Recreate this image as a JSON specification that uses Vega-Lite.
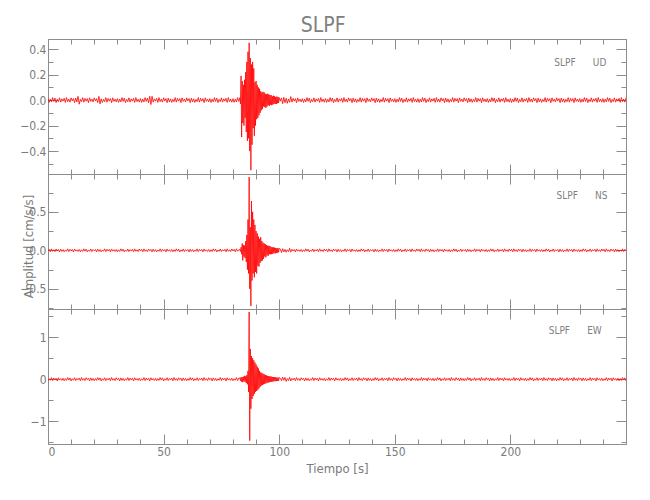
{
"$schema": "https://vega.github.io/schema/vega-lite/v6.json",
"padding": {"left": 19, "top": 15, "right": 5, "bottom": 5},
"title": {"text": "SLPF", "fontSize": 21, "fontWeight": "normal", "color": "#808080", "anchor": "middle", "offset": 2},
"config": {
 "font": "Liberation Sans Narrow, DejaVu Sans Condensed, sans-serif",
 "view": {"stroke": "#8c8c8c", "strokeWidth": 1},
 "axis": {"domainColor": "#8c8c8c", "tickColor": "#8c8c8c", "labelColor": "#7a7a7a", "titleColor": "#7a7a7a", "labelFontSize": 12, "titleFontSize": 13, "titleFontWeight": "normal", "grid": false, "labelPadding": 12}
},
"datasets": {"w": [
{"t":0,"u":0.012,"n":-0.008,"e":-0.036},{"t":0.5,"u":-0.018,"n":0.014,"e":0.012},{"t":1,"u":0.008,"n":-0.018,"e":-0.024},{"t":1.5,"u":-0.014,"n":0.02,"e":0.04},{"t":2,"u":0.02,"n":-0.012,"e":-0.032},{"t":2.5,"u":-0.01,"n":0.008,"e":0.028},{"t":3,"u":0.016,"n":-0.016,"e":-0.016},{"t":3.5,"u":-0.02,"n":0.018,"e":0.024},{"t":4,"u":0.006,"n":-0.006,"e":-0.04},{"t":4.5,"u":-0.012,"n":0.012,"e":0.036},
{"t":5,"u":0.018,"n":-0.02,"e":-0.02},{"t":5.5,"u":-0.016,"n":0.016,"e":0.016},{"t":6,"u":0.01,"n":-0.014,"e":-0.028},{"t":6.5,"u":-0.008,"n":0.01,"e":0.024},{"t":7,"u":0.014,"n":-0.018,"e":-0.036},{"t":7.5,"u":-0.018,"n":0.006,"e":0.016},{"t":8,"u":0.02,"n":-0.012,"e":-0.028},{"t":8.5,"u":-0.012,"n":0.02,"e":0.04},{"t":9,"u":0.008,"n":-0.016,"e":-0.02},{"t":9.5,"u":-0.016,"n":0.014,"e":0.032},
{"t":10,"u":0.018,"n":-0.008,"e":-0.04},{"t":10.5,"u":-0.006,"n":0.012,"e":0.012},{"t":11,"u":0.012,"n":-0.02,"e":-0.024},{"t":11.5,"u":-0.02,"n":0.018,"e":0.036},{"t":12,"u":0.016,"n":-0.01,"e":-0.032},{"t":12.5,"u":-0.014,"n":0.008,"e":0.02},{"t":13,"u":0.03,"n":-0.014,"e":-0.016},{"t":13.5,"u":-0.032,"n":0.012,"e":0.028},{"t":14,"u":0.006,"n":-0.018,"e":-0.036},{"t":14.5,"u":-0.012,"n":0.008,"e":0.04},
{"t":15,"u":0.02,"n":-0.014,"e":-0.024},{"t":15.5,"u":-0.016,"n":0.02,"e":0.016},{"t":16,"u":0.014,"n":-0.01,"e":-0.032},{"t":16.5,"u":-0.008,"n":0.016,"e":0.036},{"t":17,"u":0.012,"n":-0.02,"e":-0.012},{"t":17.5,"u":-0.02,"n":0.006,"e":0.024},{"t":18,"u":0.018,"n":-0.012,"e":-0.04},{"t":18.5,"u":-0.01,"n":0.018,"e":0.032},{"t":19,"u":0.008,"n":-0.016,"e":-0.028},{"t":19.5,"u":-0.014,"n":0.01,"e":0.02},
{"t":20,"u":0.018,"n":-0.006,"e":-0.036},{"t":20.5,"u":-0.006,"n":0.012,"e":0.016},{"t":21,"u":0.012,"n":-0.02,"e":-0.028},{"t":21.5,"u":-0.02,"n":0.016,"e":0.04},{"t":22,"u":0.03,"n":-0.014,"e":-0.02},{"t":22.5,"u":-0.03,"n":0.01,"e":0.032},{"t":23,"u":0.01,"n":-0.018,"e":-0.04},{"t":23.5,"u":-0.018,"n":0.006,"e":0.012},{"t":24,"u":0.006,"n":-0.012,"e":-0.024},{"t":24.5,"u":-0.012,"n":0.02,"e":0.036},
{"t":25,"u":0.02,"n":-0.016,"e":-0.032},{"t":25.5,"u":-0.016,"n":0.014,"e":0.02},{"t":26,"u":0.014,"n":-0.008,"e":-0.016},{"t":26.5,"u":-0.008,"n":0.012,"e":0.028},{"t":27,"u":0.012,"n":-0.02,"e":-0.036},{"t":27.5,"u":-0.02,"n":0.018,"e":0.04},{"t":28,"u":0.018,"n":-0.01,"e":-0.024},{"t":28.5,"u":-0.01,"n":0.008,"e":0.016},{"t":29,"u":0.008,"n":-0.014,"e":-0.032},{"t":29.5,"u":-0.014,"n":0.012,"e":0.036},
{"t":30,"u":0.012,"n":-0.018,"e":-0.012},{"t":30.5,"u":-0.018,"n":0.008,"e":0.024},{"t":31,"u":0.008,"n":-0.014,"e":-0.04},{"t":31.5,"u":-0.014,"n":0.02,"e":0.032},{"t":32,"u":0.02,"n":-0.01,"e":-0.028},{"t":32.5,"u":-0.01,"n":0.016,"e":0.02},{"t":33,"u":0.016,"n":-0.02,"e":-0.036},{"t":33.5,"u":-0.02,"n":0.006,"e":0.012},{"t":34,"u":0.006,"n":-0.012,"e":-0.024},{"t":34.5,"u":-0.012,"n":0.018,"e":0.04},
{"t":35,"u":0.018,"n":-0.016,"e":-0.032},{"t":35.5,"u":-0.016,"n":0.01,"e":0.028},{"t":36,"u":0.01,"n":-0.008,"e":-0.016},{"t":36.5,"u":-0.008,"n":0.014,"e":0.024},{"t":37,"u":0.014,"n":-0.018,"e":-0.04},{"t":37.5,"u":-0.018,"n":0.02,"e":0.036},{"t":38,"u":0.02,"n":-0.012,"e":-0.02},{"t":38.5,"u":-0.012,"n":0.008,"e":0.016},{"t":39,"u":0.008,"n":-0.016,"e":-0.028},{"t":39.5,"u":-0.016,"n":0.018,"e":0.024},
{"t":40,"u":0.012,"n":-0.008,"e":-0.036},{"t":40.5,"u":-0.018,"n":0.014,"e":0.012},{"t":41,"u":0.008,"n":-0.018,"e":-0.024},{"t":41.5,"u":-0.014,"n":0.02,"e":0.04},{"t":42,"u":0.02,"n":-0.012,"e":-0.032},{"t":42.5,"u":-0.01,"n":0.008,"e":0.028},{"t":43,"u":0.016,"n":-0.016,"e":-0.016},{"t":43.5,"u":-0.02,"n":0.018,"e":0.024},{"t":44,"u":0.03,"n":-0.006,"e":-0.04},{"t":44.5,"u":-0.035,"n":0.012,"e":0.036},
{"t":45,"u":0.03,"n":-0.02,"e":-0.02},{"t":45.5,"u":-0.016,"n":0.016,"e":0.016},{"t":46,"u":0.01,"n":-0.014,"e":-0.028},{"t":46.5,"u":-0.008,"n":0.01,"e":0.024},{"t":47,"u":0.014,"n":-0.018,"e":-0.036},{"t":47.5,"u":-0.018,"n":0.006,"e":0.016},{"t":48,"u":0.02,"n":-0.012,"e":-0.028},{"t":48.5,"u":-0.012,"n":0.02,"e":0.04},{"t":49,"u":0.008,"n":-0.016,"e":-0.02},{"t":49.5,"u":-0.016,"n":0.014,"e":0.032},
{"t":50,"u":0.018,"n":-0.008,"e":-0.04},{"t":50.5,"u":-0.006,"n":0.012,"e":0.012},{"t":51,"u":0.012,"n":-0.02,"e":-0.024},{"t":51.5,"u":-0.02,"n":0.018,"e":0.036},{"t":52,"u":0.016,"n":-0.01,"e":-0.032},{"t":52.5,"u":-0.014,"n":0.008,"e":0.02},{"t":53,"u":0.01,"n":-0.014,"e":-0.016},{"t":53.5,"u":-0.018,"n":0.012,"e":0.028},{"t":54,"u":0.006,"n":-0.018,"e":-0.036},{"t":54.5,"u":-0.012,"n":0.008,"e":0.04},
{"t":55,"u":0.02,"n":-0.014,"e":-0.024},{"t":55.5,"u":-0.016,"n":0.02,"e":0.016},{"t":56,"u":0.014,"n":-0.01,"e":-0.032},{"t":56.5,"u":-0.008,"n":0.016,"e":0.036},{"t":57,"u":0.012,"n":-0.02,"e":-0.012},{"t":57.5,"u":-0.02,"n":0.006,"e":0.024},{"t":58,"u":0.018,"n":-0.012,"e":-0.04},{"t":58.5,"u":-0.01,"n":0.018,"e":0.032},{"t":59,"u":0.008,"n":-0.016,"e":-0.028},{"t":59.5,"u":-0.014,"n":0.01,"e":0.02},
{"t":60,"u":0.018,"n":-0.006,"e":-0.036},{"t":60.5,"u":-0.006,"n":0.012,"e":0.016},{"t":61,"u":0.012,"n":-0.02,"e":-0.028},{"t":61.5,"u":-0.02,"n":0.016,"e":0.04},{"t":62,"u":0.016,"n":-0.014,"e":-0.02},{"t":62.5,"u":-0.014,"n":0.01,"e":0.032},{"t":63,"u":0.01,"n":-0.018,"e":-0.04},{"t":63.5,"u":-0.018,"n":0.006,"e":0.012},{"t":64,"u":0.006,"n":-0.012,"e":-0.024},{"t":64.5,"u":-0.012,"n":0.02,"e":0.036},
{"t":65,"u":0.02,"n":-0.016,"e":-0.032},{"t":65.5,"u":-0.016,"n":0.014,"e":0.02},{"t":66,"u":0.014,"n":-0.008,"e":-0.016},{"t":66.5,"u":-0.008,"n":0.012,"e":0.028},{"t":67,"u":0.012,"n":-0.02,"e":-0.036},{"t":67.5,"u":-0.02,"n":0.018,"e":0.04},{"t":68,"u":0.018,"n":-0.01,"e":-0.024},{"t":68.5,"u":-0.01,"n":0.008,"e":0.016},{"t":69,"u":0.008,"n":-0.014,"e":-0.032},{"t":69.5,"u":-0.014,"n":0.012,"e":0.036},
{"t":70,"u":0.012,"n":-0.018,"e":-0.012},{"t":70.5,"u":-0.018,"n":0.008,"e":0.024},{"t":71,"u":0.008,"n":-0.014,"e":-0.04},{"t":71.5,"u":-0.014,"n":0.02,"e":0.032},{"t":72,"u":0.02,"n":-0.01,"e":-0.028},{"t":72.5,"u":-0.01,"n":0.016,"e":0.02},{"t":73,"u":0.016,"n":-0.02,"e":-0.036},{"t":73.5,"u":-0.02,"n":0.006,"e":0.012},{"t":74,"u":0.006,"n":-0.012,"e":-0.024},{"t":74.5,"u":-0.012,"n":0.018,"e":0.04},
{"t":75,"u":0.018,"n":-0.016,"e":-0.032},{"t":75.5,"u":-0.016,"n":0.01,"e":0.028},{"t":76,"u":0.01,"n":-0.008,"e":-0.016},{"t":76.5,"u":-0.008,"n":0.014,"e":0.024},{"t":77,"u":0.014,"n":-0.018,"e":-0.04},{"t":77.5,"u":-0.018,"n":0.02,"e":0.036},{"t":78,"u":0.02,"n":-0.012,"e":-0.02},{"t":78.5,"u":-0.012,"n":0.008,"e":0.016},{"t":79,"u":0.008,"n":-0.016,"e":-0.028},{"t":79.5,"u":-0.016,"n":0.018,"e":0.024},
{"t":80,"u":0.012,"n":-0.008,"e":-0.036},{"t":80.5,"u":-0.018,"n":0.014,"e":0.012},{"t":81,"u":0.008,"n":-0.018,"e":-0.024},{"t":81.5,"u":-0.014,"n":0.02,"e":0.04},{"t":82,"u":0.02,"n":-0.012,"e":-0.032},{"t":82.5,"u":-0.01,"n":0.008,"e":0.028},
{"t":83,"u":0.02,"n":0.01,"e":0.03},{"t":83.25,"u":-0.03,"n":-0.015,"e":-0.035},{"t":83.5,"u":0.19,"n":0.04,"e":0.05},{"t":83.75,"u":-0.29,"n":-0.05,"e":-0.06},
{"t":84,"u":0.15,"n":0.09,"e":0.05},{"t":84.25,"u":-0.18,"n":-0.13,"e":-0.07},{"t":84.5,"u":0.12,"n":0.07,"e":0.06},{"t":84.75,"u":-0.2,"n":-0.08,"e":-0.05},
{"t":85,"u":0.16,"n":0.06,"e":0.08},{"t":85.25,"u":-0.14,"n":-0.1,"e":-0.06},{"t":85.5,"u":0.22,"n":0.12,"e":0.07},{"t":85.75,"u":-0.25,"n":-0.15,"e":-0.09},
{"t":86,"u":0.3,"n":0.2,"e":0.1},{"t":86.25,"u":-0.32,"n":-0.25,"e":-0.12},{"t":86.5,"u":0.38,"n":0.4,"e":0.2},{"t":86.75,"u":-0.3,"n":-0.3,"e":-0.3},
{"t":87,"u":0.45,"n":0.95,"e":1.6},{"t":87.25,"u":-0.4,"n":-0.5,"e":-1.46},{"t":87.5,"u":0.33,"n":0.3,"e":0.72},{"t":87.75,"u":-0.55,"n":-0.72,"e":-0.7},
{"t":88,"u":0.28,"n":0.64,"e":0.55},{"t":88.25,"u":-0.35,"n":-0.39,"e":-0.47},{"t":88.5,"u":0.3,"n":0.5,"e":0.5},{"t":88.75,"u":-0.22,"n":-0.3,"e":-0.4},
{"t":89,"u":0.25,"n":0.4,"e":0.45},{"t":89.25,"u":-0.28,"n":-0.35,"e":-0.35},{"t":89.5,"u":0.14,"n":0.33,"e":0.4},{"t":89.75,"u":-0.2,"n":-0.28,"e":-0.3},
{"t":90,"u":0.15,"n":0.25,"e":0.35},{"t":90.25,"u":-0.15,"n":-0.3,"e":-0.28},{"t":90.5,"u":0.12,"n":0.22,"e":0.3},{"t":90.75,"u":-0.14,"n":-0.2,"e":-0.25},
{"t":91,"u":0.1,"n":0.18,"e":0.26},{"t":91.25,"u":-0.12,"n":-0.21,"e":-0.22},{"t":91.5,"u":0.09,"n":0.15,"e":0.2},{"t":91.75,"u":-0.1,"n":-0.16,"e":-0.18},
{"t":92,"u":0.07,"n":0.17,"e":0.16},{"t":92.25,"u":-0.08,"n":-0.14,"e":-0.15},{"t":92.5,"u":0.06,"n":0.12,"e":0.15},{"t":92.75,"u":-0.07,"n":-0.13,"e":-0.14},
{"t":93,"u":0.065,"n":0.1,"e":0.13},{"t":93.25,"u":-0.05,"n":-0.11,"e":-0.12},{"t":93.5,"u":0.06,"n":0.09,"e":0.12},{"t":93.75,"u":-0.055,"n":-0.08,"e":-0.11},
{"t":94,"u":0.05,"n":0.08,"e":0.1},{"t":94.25,"u":-0.06,"n":-0.09,"e":-0.1},{"t":94.5,"u":0.045,"n":0.07,"e":0.09},{"t":94.75,"u":-0.05,"n":-0.065,"e":-0.085},
{"t":95,"u":0.05,"n":0.06,"e":0.08},{"t":95.25,"u":-0.04,"n":-0.07,"e":-0.08},{"t":95.5,"u":0.045,"n":0.06,"e":0.075},{"t":95.75,"u":-0.045,"n":-0.05,"e":-0.07},
{"t":96,"u":0.04,"n":0.055,"e":0.07},{"t":96.25,"u":-0.035,"n":-0.05,"e":-0.06},{"t":96.5,"u":0.04,"n":0.045,"e":0.065},{"t":96.75,"u":-0.04,"n":-0.05,"e":-0.06},
{"t":97,"u":0.03,"n":0.04,"e":0.055},{"t":97.25,"u":-0.035,"n":-0.045,"e":-0.055},{"t":97.5,"u":0.035,"n":0.04,"e":0.05},{"t":97.75,"u":-0.03,"n":-0.035,"e":-0.05},
{"t":98,"u":0.03,"n":0.035,"e":0.05},{"t":98.25,"u":-0.03,"n":-0.04,"e":-0.045},{"t":98.5,"u":0.025,"n":0.03,"e":0.045},{"t":98.75,"u":-0.03,"n":-0.035,"e":-0.045},
{"t":99,"u":0.028,"n":0.03,"e":0.04},{"t":99.25,"u":-0.025,"n":-0.03,"e":-0.04},{"t":99.5,"u":0.025,"n":0.028,"e":0.04},{"t":99.75,"u":-0.022,"n":-0.025,"e":-0.04},
{"t":100,"u":0.02,"n":0.025,"e":0.04},
{"t":100.5,"u":-0.008,"n":0.017,"e":0.021},{"t":101,"u":0.017,"n":-0.028,"e":-0.036},{"t":101.5,"u":-0.028,"n":0.022,"e":0.052},{"t":102,"u":0.022,"n":-0.02,"e":-0.026},{"t":102.5,"u":-0.02,"n":0.014,"e":0.042},{"t":103,"u":0.014,"n":-0.025,"e":-0.052},{"t":103.5,"u":-0.025,"n":0.008,"e":0.016},{"t":104,"u":0.008,"n":-0.017,"e":-0.031},{"t":104.5,"u":-0.017,"n":0.028,"e":0.047},{"t":105,"u":0.028,"n":-0.022,"e":-0.042},
{"t":105.5,"u":-0.016,"n":0.014,"e":0.02},{"t":106,"u":0.014,"n":-0.008,"e":-0.016},{"t":106.5,"u":-0.008,"n":0.012,"e":0.028},{"t":107,"u":0.012,"n":-0.02,"e":-0.036},{"t":107.5,"u":-0.02,"n":0.018,"e":0.04},{"t":108,"u":0.018,"n":-0.01,"e":-0.024},{"t":108.5,"u":-0.01,"n":0.008,"e":0.016},{"t":109,"u":0.008,"n":-0.014,"e":-0.032},{"t":109.5,"u":-0.014,"n":0.012,"e":0.036},
{"t":110,"u":0.012,"n":-0.018,"e":-0.012},{"t":110.5,"u":-0.018,"n":0.008,"e":0.024},{"t":111,"u":0.008,"n":-0.014,"e":-0.04},{"t":111.5,"u":-0.014,"n":0.02,"e":0.032},{"t":112,"u":0.02,"n":-0.01,"e":-0.028},{"t":112.5,"u":-0.01,"n":0.016,"e":0.02},{"t":113,"u":0.016,"n":-0.02,"e":-0.036},{"t":113.5,"u":-0.02,"n":0.006,"e":0.012},{"t":114,"u":0.006,"n":-0.012,"e":-0.024},{"t":114.5,"u":-0.012,"n":0.018,"e":0.04},
{"t":115,"u":0.018,"n":-0.016,"e":-0.032},{"t":115.5,"u":-0.016,"n":0.01,"e":0.028},{"t":116,"u":0.01,"n":-0.008,"e":-0.016},{"t":116.5,"u":-0.008,"n":0.014,"e":0.024},{"t":117,"u":0.014,"n":-0.018,"e":-0.04},{"t":117.5,"u":-0.018,"n":0.02,"e":0.036},{"t":118,"u":0.02,"n":-0.012,"e":-0.02},{"t":118.5,"u":-0.012,"n":0.008,"e":0.016},{"t":119,"u":0.008,"n":-0.016,"e":-0.028},{"t":119.5,"u":-0.016,"n":0.018,"e":0.024},
{"t":120,"u":0.012,"n":-0.008,"e":-0.036},{"t":120.5,"u":-0.018,"n":0.014,"e":0.012},{"t":121,"u":0.008,"n":-0.018,"e":-0.024},{"t":121.5,"u":-0.014,"n":0.02,"e":0.04},{"t":122,"u":0.02,"n":-0.012,"e":-0.032},{"t":122.5,"u":-0.01,"n":0.008,"e":0.028},{"t":123,"u":0.016,"n":-0.016,"e":-0.016},{"t":123.5,"u":-0.02,"n":0.018,"e":0.024},{"t":124,"u":0.006,"n":-0.006,"e":-0.04},{"t":124.5,"u":-0.012,"n":0.012,"e":0.036},
{"t":125,"u":0.018,"n":-0.02,"e":-0.02},{"t":125.5,"u":-0.016,"n":0.016,"e":0.016},{"t":126,"u":0.01,"n":-0.014,"e":-0.028},{"t":126.5,"u":-0.008,"n":0.01,"e":0.024},{"t":127,"u":0.014,"n":-0.018,"e":-0.036},{"t":127.5,"u":-0.018,"n":0.006,"e":0.016},{"t":128,"u":0.02,"n":-0.012,"e":-0.028},{"t":128.5,"u":-0.012,"n":0.02,"e":0.04},{"t":129,"u":0.008,"n":-0.016,"e":-0.02},{"t":129.5,"u":-0.016,"n":0.014,"e":0.032},
{"t":130,"u":0.018,"n":-0.008,"e":-0.04},{"t":130.5,"u":-0.006,"n":0.012,"e":0.012},{"t":131,"u":0.012,"n":-0.02,"e":-0.024},{"t":131.5,"u":-0.02,"n":0.018,"e":0.036},{"t":132,"u":0.016,"n":-0.01,"e":-0.032},{"t":132.5,"u":-0.014,"n":0.008,"e":0.02},{"t":133,"u":0.01,"n":-0.014,"e":-0.016},{"t":133.5,"u":-0.018,"n":0.012,"e":0.028},{"t":134,"u":0.006,"n":-0.018,"e":-0.036},{"t":134.5,"u":-0.012,"n":0.008,"e":0.04},
{"t":135,"u":0.02,"n":-0.014,"e":-0.024},{"t":135.5,"u":-0.016,"n":0.02,"e":0.016},{"t":136,"u":0.014,"n":-0.01,"e":-0.032},{"t":136.5,"u":-0.008,"n":0.016,"e":0.036},{"t":137,"u":0.012,"n":-0.02,"e":-0.012},{"t":137.5,"u":-0.02,"n":0.006,"e":0.024},{"t":138,"u":0.018,"n":-0.012,"e":-0.04},{"t":138.5,"u":-0.01,"n":0.018,"e":0.032},{"t":139,"u":0.008,"n":-0.016,"e":-0.028},{"t":139.5,"u":-0.014,"n":0.01,"e":0.02},
{"t":140,"u":0.018,"n":-0.006,"e":-0.036},{"t":140.5,"u":-0.006,"n":0.012,"e":0.016},{"t":141,"u":0.012,"n":-0.02,"e":-0.028},{"t":141.5,"u":-0.02,"n":0.016,"e":0.04},{"t":142,"u":0.016,"n":-0.014,"e":-0.02},{"t":142.5,"u":-0.014,"n":0.01,"e":0.032},{"t":143,"u":0.01,"n":-0.018,"e":-0.04},{"t":143.5,"u":-0.018,"n":0.006,"e":0.012},{"t":144,"u":0.006,"n":-0.012,"e":-0.024},{"t":144.5,"u":-0.012,"n":0.02,"e":0.036},
{"t":145,"u":0.02,"n":-0.016,"e":-0.032},{"t":145.5,"u":-0.016,"n":0.014,"e":0.02},{"t":146,"u":0.014,"n":-0.008,"e":-0.016},{"t":146.5,"u":-0.008,"n":0.012,"e":0.028},{"t":147,"u":0.012,"n":-0.02,"e":-0.036},{"t":147.5,"u":-0.02,"n":0.018,"e":0.04},{"t":148,"u":0.018,"n":-0.01,"e":-0.024},{"t":148.5,"u":-0.01,"n":0.008,"e":0.016},{"t":149,"u":0.008,"n":-0.014,"e":-0.032},{"t":149.5,"u":-0.014,"n":0.012,"e":0.036},
{"t":150,"u":0.012,"n":-0.018,"e":-0.012},{"t":150.5,"u":-0.018,"n":0.008,"e":0.024},{"t":151,"u":0.008,"n":-0.014,"e":-0.04},{"t":151.5,"u":-0.014,"n":0.02,"e":0.032},{"t":152,"u":0.02,"n":-0.01,"e":-0.028},{"t":152.5,"u":-0.01,"n":0.016,"e":0.02},{"t":153,"u":0.016,"n":-0.02,"e":-0.036},{"t":153.5,"u":-0.02,"n":0.006,"e":0.012},{"t":154,"u":0.006,"n":-0.012,"e":-0.024},{"t":154.5,"u":-0.012,"n":0.018,"e":0.04},
{"t":155,"u":0.018,"n":-0.016,"e":-0.032},{"t":155.5,"u":-0.016,"n":0.01,"e":0.028},{"t":156,"u":0.01,"n":-0.008,"e":-0.016},{"t":156.5,"u":-0.008,"n":0.014,"e":0.024},{"t":157,"u":0.014,"n":-0.018,"e":-0.04},{"t":157.5,"u":-0.018,"n":0.02,"e":0.036},{"t":158,"u":0.02,"n":-0.012,"e":-0.02},{"t":158.5,"u":-0.012,"n":0.008,"e":0.016},{"t":159,"u":0.008,"n":-0.016,"e":-0.028},{"t":159.5,"u":-0.016,"n":0.018,"e":0.024},
{"t":160,"u":0.012,"n":-0.008,"e":-0.036},{"t":160.5,"u":-0.018,"n":0.014,"e":0.012},{"t":161,"u":0.008,"n":-0.018,"e":-0.024},{"t":161.5,"u":-0.014,"n":0.02,"e":0.04},{"t":162,"u":0.02,"n":-0.012,"e":-0.032},{"t":162.5,"u":-0.01,"n":0.008,"e":0.028},{"t":163,"u":0.016,"n":-0.016,"e":-0.016},{"t":163.5,"u":-0.02,"n":0.018,"e":0.024},{"t":164,"u":0.006,"n":-0.006,"e":-0.04},{"t":164.5,"u":-0.012,"n":0.012,"e":0.036},
{"t":165,"u":0.018,"n":-0.02,"e":-0.02},{"t":165.5,"u":-0.016,"n":0.016,"e":0.016},{"t":166,"u":0.01,"n":-0.014,"e":-0.028},{"t":166.5,"u":-0.008,"n":0.01,"e":0.024},{"t":167,"u":0.014,"n":-0.018,"e":-0.036},{"t":167.5,"u":-0.018,"n":0.006,"e":0.016},{"t":168,"u":0.02,"n":-0.012,"e":-0.028},{"t":168.5,"u":-0.012,"n":0.02,"e":0.04},{"t":169,"u":0.008,"n":-0.016,"e":-0.02},{"t":169.5,"u":-0.016,"n":0.014,"e":0.032},
{"t":170,"u":0.018,"n":-0.008,"e":-0.04},{"t":170.5,"u":-0.006,"n":0.012,"e":0.012},{"t":171,"u":0.012,"n":-0.02,"e":-0.024},{"t":171.5,"u":-0.02,"n":0.018,"e":0.036},{"t":172,"u":0.016,"n":-0.01,"e":-0.032},{"t":172.5,"u":-0.014,"n":0.008,"e":0.02},{"t":173,"u":0.01,"n":-0.014,"e":-0.016},{"t":173.5,"u":-0.018,"n":0.012,"e":0.028},{"t":174,"u":0.006,"n":-0.018,"e":-0.036},{"t":174.5,"u":-0.012,"n":0.008,"e":0.04},
{"t":175,"u":0.02,"n":-0.014,"e":-0.024},{"t":175.5,"u":-0.016,"n":0.02,"e":0.016},{"t":176,"u":0.014,"n":-0.01,"e":-0.032},{"t":176.5,"u":-0.008,"n":0.016,"e":0.036},{"t":177,"u":0.012,"n":-0.02,"e":-0.012},{"t":177.5,"u":-0.02,"n":0.006,"e":0.024},{"t":178,"u":0.018,"n":-0.012,"e":-0.04},{"t":178.5,"u":-0.01,"n":0.018,"e":0.032},{"t":179,"u":0.008,"n":-0.016,"e":-0.028},{"t":179.5,"u":-0.014,"n":0.01,"e":0.02},
{"t":180,"u":0.018,"n":-0.006,"e":-0.036},{"t":180.5,"u":-0.006,"n":0.012,"e":0.016},{"t":181,"u":0.012,"n":-0.02,"e":-0.028},{"t":181.5,"u":-0.02,"n":0.016,"e":0.04},{"t":182,"u":0.016,"n":-0.014,"e":-0.02},{"t":182.5,"u":-0.014,"n":0.01,"e":0.032},{"t":183,"u":0.01,"n":-0.018,"e":-0.04},{"t":183.5,"u":-0.018,"n":0.006,"e":0.012},{"t":184,"u":0.006,"n":-0.012,"e":-0.024},{"t":184.5,"u":-0.012,"n":0.02,"e":0.036},
{"t":185,"u":0.02,"n":-0.016,"e":-0.032},{"t":185.5,"u":-0.016,"n":0.014,"e":0.02},{"t":186,"u":0.014,"n":-0.008,"e":-0.016},{"t":186.5,"u":-0.008,"n":0.012,"e":0.028},{"t":187,"u":0.012,"n":-0.02,"e":-0.036},{"t":187.5,"u":-0.02,"n":0.018,"e":0.04},{"t":188,"u":0.018,"n":-0.01,"e":-0.024},{"t":188.5,"u":-0.01,"n":0.008,"e":0.016},{"t":189,"u":0.008,"n":-0.014,"e":-0.032},{"t":189.5,"u":-0.014,"n":0.012,"e":0.036},
{"t":190,"u":0.012,"n":-0.018,"e":-0.012},{"t":190.5,"u":-0.018,"n":0.008,"e":0.024},{"t":191,"u":0.008,"n":-0.014,"e":-0.04},{"t":191.5,"u":-0.014,"n":0.02,"e":0.032},{"t":192,"u":0.02,"n":-0.01,"e":-0.028},{"t":192.5,"u":-0.01,"n":0.016,"e":0.02},{"t":193,"u":0.016,"n":-0.02,"e":-0.036},{"t":193.5,"u":-0.02,"n":0.006,"e":0.012},{"t":194,"u":0.006,"n":-0.012,"e":-0.024},{"t":194.5,"u":-0.012,"n":0.018,"e":0.04},
{"t":195,"u":0.018,"n":-0.016,"e":-0.032},{"t":195.5,"u":-0.016,"n":0.01,"e":0.028},{"t":196,"u":0.01,"n":-0.008,"e":-0.016},{"t":196.5,"u":-0.008,"n":0.014,"e":0.024},{"t":197,"u":0.014,"n":-0.018,"e":-0.04},{"t":197.5,"u":-0.018,"n":0.02,"e":0.036},{"t":198,"u":0.02,"n":-0.012,"e":-0.02},{"t":198.5,"u":-0.012,"n":0.008,"e":0.016},{"t":199,"u":0.008,"n":-0.016,"e":-0.028},{"t":199.5,"u":-0.016,"n":0.018,"e":0.024},
{"t":200,"u":0.012,"n":-0.008,"e":-0.036},{"t":200.5,"u":-0.018,"n":0.014,"e":0.012},{"t":201,"u":0.008,"n":-0.018,"e":-0.024},{"t":201.5,"u":-0.014,"n":0.02,"e":0.04},{"t":202,"u":0.02,"n":-0.012,"e":-0.032},{"t":202.5,"u":-0.01,"n":0.008,"e":0.028},{"t":203,"u":0.016,"n":-0.016,"e":-0.016},{"t":203.5,"u":-0.02,"n":0.018,"e":0.024},{"t":204,"u":0.006,"n":-0.006,"e":-0.04},{"t":204.5,"u":-0.012,"n":0.012,"e":0.036},
{"t":205,"u":0.018,"n":-0.02,"e":-0.02},{"t":205.5,"u":-0.016,"n":0.016,"e":0.016},{"t":206,"u":0.01,"n":-0.014,"e":-0.028},{"t":206.5,"u":-0.008,"n":0.01,"e":0.024},{"t":207,"u":0.014,"n":-0.018,"e":-0.036},{"t":207.5,"u":-0.018,"n":0.006,"e":0.016},{"t":208,"u":0.02,"n":-0.012,"e":-0.028},{"t":208.5,"u":-0.012,"n":0.02,"e":0.04},{"t":209,"u":0.008,"n":-0.016,"e":-0.02},{"t":209.5,"u":-0.016,"n":0.014,"e":0.032},
{"t":210,"u":0.018,"n":-0.008,"e":-0.04},{"t":210.5,"u":-0.006,"n":0.012,"e":0.012},{"t":211,"u":0.012,"n":-0.02,"e":-0.024},{"t":211.5,"u":-0.02,"n":0.018,"e":0.036},{"t":212,"u":0.016,"n":-0.01,"e":-0.032},{"t":212.5,"u":-0.014,"n":0.008,"e":0.02},{"t":213,"u":0.01,"n":-0.014,"e":-0.016},{"t":213.5,"u":-0.018,"n":0.012,"e":0.028},{"t":214,"u":0.006,"n":-0.018,"e":-0.036},{"t":214.5,"u":-0.012,"n":0.008,"e":0.04},
{"t":215,"u":0.02,"n":-0.014,"e":-0.024},{"t":215.5,"u":-0.016,"n":0.02,"e":0.016},{"t":216,"u":0.014,"n":-0.01,"e":-0.032},{"t":216.5,"u":-0.008,"n":0.016,"e":0.036},{"t":217,"u":0.012,"n":-0.02,"e":-0.012},{"t":217.5,"u":-0.02,"n":0.006,"e":0.024},{"t":218,"u":0.018,"n":-0.012,"e":-0.04},{"t":218.5,"u":-0.01,"n":0.018,"e":0.032},{"t":219,"u":0.008,"n":-0.016,"e":-0.028},{"t":219.5,"u":-0.014,"n":0.01,"e":0.02},
{"t":220,"u":0.018,"n":-0.006,"e":-0.036},{"t":220.5,"u":-0.006,"n":0.012,"e":0.016},{"t":221,"u":0.012,"n":-0.02,"e":-0.028},{"t":221.5,"u":-0.02,"n":0.016,"e":0.04},{"t":222,"u":0.016,"n":-0.014,"e":-0.02},{"t":222.5,"u":-0.014,"n":0.01,"e":0.032},{"t":223,"u":0.01,"n":-0.018,"e":-0.04},{"t":223.5,"u":-0.018,"n":0.006,"e":0.012},{"t":224,"u":0.006,"n":-0.012,"e":-0.024},{"t":224.5,"u":-0.012,"n":0.02,"e":0.036},
{"t":225,"u":0.02,"n":-0.016,"e":-0.032},{"t":225.5,"u":-0.016,"n":0.014,"e":0.02},{"t":226,"u":0.014,"n":-0.008,"e":-0.016},{"t":226.5,"u":-0.008,"n":0.012,"e":0.028},{"t":227,"u":0.012,"n":-0.02,"e":-0.036},{"t":227.5,"u":-0.02,"n":0.018,"e":0.04},{"t":228,"u":0.018,"n":-0.01,"e":-0.024},{"t":228.5,"u":-0.01,"n":0.008,"e":0.016},{"t":229,"u":0.008,"n":-0.014,"e":-0.032},{"t":229.5,"u":-0.014,"n":0.012,"e":0.036},
{"t":230,"u":0.012,"n":-0.018,"e":-0.012},{"t":230.5,"u":-0.018,"n":0.008,"e":0.024},{"t":231,"u":0.008,"n":-0.014,"e":-0.04},{"t":231.5,"u":-0.014,"n":0.02,"e":0.032},{"t":232,"u":0.02,"n":-0.01,"e":-0.028},{"t":232.5,"u":-0.01,"n":0.016,"e":0.02},{"t":233,"u":0.016,"n":-0.02,"e":-0.036},{"t":233.5,"u":-0.02,"n":0.006,"e":0.012},{"t":234,"u":0.006,"n":-0.012,"e":-0.024},{"t":234.5,"u":-0.012,"n":0.018,"e":0.04},
{"t":235,"u":0.018,"n":-0.016,"e":-0.032},{"t":235.5,"u":-0.016,"n":0.01,"e":0.028},{"t":236,"u":0.01,"n":-0.008,"e":-0.016},{"t":236.5,"u":-0.008,"n":0.014,"e":0.024},{"t":237,"u":0.014,"n":-0.018,"e":-0.04},{"t":237.5,"u":-0.018,"n":0.02,"e":0.036},{"t":238,"u":0.02,"n":-0.012,"e":-0.02},{"t":238.5,"u":-0.012,"n":0.008,"e":0.016},{"t":239,"u":0.008,"n":-0.016,"e":-0.028},{"t":239.5,"u":-0.016,"n":0.018,"e":0.024},
{"t":240,"u":0.012,"n":-0.008,"e":-0.036},{"t":240.5,"u":-0.018,"n":0.014,"e":0.012},{"t":241,"u":0.008,"n":-0.018,"e":-0.024},{"t":241.5,"u":-0.014,"n":0.02,"e":0.04},{"t":242,"u":0.02,"n":-0.012,"e":-0.032},{"t":242.5,"u":-0.01,"n":0.008,"e":0.028},{"t":243,"u":0.016,"n":-0.016,"e":-0.016},{"t":243.5,"u":-0.02,"n":0.018,"e":0.024},{"t":244,"u":0.006,"n":-0.006,"e":-0.04},{"t":244.5,"u":-0.012,"n":0.012,"e":0.036},
{"t":245,"u":0.018,"n":-0.02,"e":-0.02},{"t":245.5,"u":-0.016,"n":0.016,"e":0.016},{"t":246,"u":0.01,"n":-0.014,"e":-0.028},{"t":246.5,"u":-0.008,"n":0.01,"e":0.024},{"t":247,"u":0.014,"n":-0.018,"e":-0.036},{"t":247.5,"u":-0.018,"n":0.006,"e":0.016},{"t":248,"u":0.02,"n":-0.012,"e":-0.028},{"t":248.5,"u":-0.012,"n":0.02,"e":0.04},{"t":249,"u":0.008,"n":-0.016,"e":-0.02},{"t":249.5,"u":-0.016,"n":0.014,"e":0.032},
{"t":250,"u":0.018,"n":-0.008,"e":-0.04}
]},
"vconcat": [
 {
  "width": 578, "height": 135,
  "resolve": {"axis": {"x": "independent", "y": "independent"}},
  "layer": [
   {"data": {"name": "w"},
    "mark": {"type": "line", "color": "#ff0000", "strokeWidth": 0.8, "clip": true},
    "encoding": {
     "x": {"field": "t", "type": "quantitative", "scale": {"domain": [0, 250], "nice": false, "zero": false},
      "axis": {"orient": "bottom", "values": [0,10,20,30,40,50,60,70,80,90,100,110,120,130,140,150,160,170,180,190,200,210,220,230,240], "labels": false, "title": null, "tickSize": {"condition": {"test": "datum.value % 50 === 0", "value": -10}, "value": -5}}},
     "y": {"field": "u", "type": "quantitative", "scale": {"domain": [-0.58, 0.48], "nice": false, "zero": false},
      "axis": {"orient": "left", "values": [-0.5,-0.4,-0.3,-0.2,-0.1,0,0.1,0.2,0.3,0.4], "format": ".1f", "labelExpr": "abs(datum.value*5 - round(datum.value*5)) < 0.001 ? datum.label : ''", "title": null, "tickSize": {"condition": {"test": "abs(datum.value*5 - round(datum.value*5)) < 0.001", "value": -10}, "value": -5}}}
    }},
   {"data": {"values": [{"label": "SLPF\u00a0\u00a0\u00a0\u00a0\u00a0\u00a0UD"}]},
    "mark": {"type": "text", "align": "right", "baseline": "middle", "fontSize": 10, "color": "#808080"},
    "encoding": {
     "text": {"field": "label"},
     "x": {"datum": 241.5, "type": "quantitative", "axis": {"orient": "top", "values": [10,20,30,40,50,60,70,80,90,100,110,120,130,140,150,160,170,180,190,200,210,220,230,240], "labels": false, "title": null, "tickSize": {"condition": {"test": "datum.value % 50 === 0", "value": -10}, "value": -5}}},
     "y": {"datum": 0.29, "type": "quantitative", "axis": {"orient": "right", "values": [-0.5,-0.4,-0.3,-0.2,-0.1,0,0.1,0.2,0.3,0.4], "labels": false, "title": null, "tickSize": {"condition": {"test": "abs(datum.value*5 - round(datum.value*5)) < 0.001", "value": -10}, "value": -5}}}
    }}
  ]
 },
 {
  "width": 578, "height": 135,
  "resolve": {"axis": {"x": "independent", "y": "independent"}},
  "layer": [
   {"data": {"name": "w"},
    "mark": {"type": "line", "color": "#ff0000", "strokeWidth": 0.8, "clip": true},
    "encoding": {
     "x": {"field": "t", "type": "quantitative", "scale": {"domain": [0, 250], "nice": false, "zero": false},
      "axis": {"orient": "bottom", "values": [0,10,20,30,40,50,60,70,80,90,100,110,120,130,140,150,160,170,180,190,200,210,220,230,240], "labels": false, "title": null, "tickSize": {"condition": {"test": "datum.value % 50 === 0", "value": -10}, "value": -5}}},
     "y": {"field": "n", "type": "quantitative", "scale": {"domain": [-0.76, 0.99], "nice": false, "zero": false},
      "axis": {"orient": "left", "values": [-0.75,-0.5,-0.25,0,0.25,0.5,0.75], "format": ".1f", "labelExpr": "abs(datum.value*2 - round(datum.value*2)) < 0.001 ? datum.label : ''", "title": "Amplitud [cm/s/s]", "titleFontSize": 13, "titleAngle": 270, "titleX": -16, "titleY": 72, "titleAlign": "center", "titleBaseline": "alphabetic", "tickSize": {"condition": {"test": "abs(datum.value*2 - round(datum.value*2)) < 0.001", "value": -10}, "value": -5}}}
    }},
   {"data": {"values": [{"label": "SLPF\u00a0\u00a0\u00a0\u00a0\u00a0\u00a0NS"}]},
    "mark": {"type": "text", "align": "right", "baseline": "middle", "fontSize": 10, "color": "#808080"},
    "encoding": {
     "text": {"field": "label"},
     "x": {"datum": 242, "type": "quantitative", "axis": {"orient": "top", "values": [10,20,30,40,50,60,70,80,90,100,110,120,130,140,150,160,170,180,190,200,210,220,230,240], "labels": false, "title": null, "tickSize": {"condition": {"test": "datum.value % 50 === 0", "value": -10}, "value": -5}}},
     "y": {"datum": 0.71, "type": "quantitative", "axis": {"orient": "right", "values": [-0.75,-0.5,-0.25,0,0.25,0.5,0.75], "labels": false, "title": null, "tickSize": {"condition": {"test": "abs(datum.value*2 - round(datum.value*2)) < 0.001", "value": -10}, "value": -5}}}
    }}
  ]
 },
 {
  "width": 578, "height": 135,
  "resolve": {"axis": {"x": "independent", "y": "independent"}},
  "layer": [
   {"data": {"name": "w"},
    "mark": {"type": "line", "color": "#ff0000", "strokeWidth": 0.8, "clip": true},
    "encoding": {
     "x": {"field": "t", "type": "quantitative", "scale": {"domain": [0, 250], "nice": false, "zero": false},
      "axis": {"orient": "bottom", "values": [0,10,20,30,40,50,60,70,80,90,100,110,120,130,140,150,160,170,180,190,200,210,220,230,240], "labelExpr": "datum.value % 50 === 0 ? datum.label : ''", "labelPadding": 12, "title": "Tiempo [s]", "titlePadding": 5, "tickSize": {"condition": {"test": "datum.value % 50 === 0", "value": -10}, "value": -5}}},
     "y": {"field": "e", "type": "quantitative", "scale": {"domain": [-1.54, 1.67], "nice": false, "zero": false},
      "axis": {"orient": "left", "values": [-1.5,-1,-0.5,0,0.5,1,1.5], "labelExpr": "abs(datum.value - round(datum.value)) < 0.001 ? format(datum.value, 'd') : ''", "title": null, "tickSize": {"condition": {"test": "abs(datum.value - round(datum.value)) < 0.001", "value": -10}, "value": -5}}}
    }},
   {"data": {"values": [{"label": "SLPF\u00a0\u00a0\u00a0\u00a0\u00a0\u00a0EW"}]},
    "mark": {"type": "text", "align": "right", "baseline": "middle", "fontSize": 10, "color": "#808080"},
    "encoding": {
     "text": {"field": "label"},
     "x": {"datum": 239.5, "type": "quantitative", "axis": {"orient": "top", "values": [10,20,30,40,50,60,70,80,90,100,110,120,130,140,150,160,170,180,190,200,210,220,230,240], "labels": false, "title": null, "tickSize": {"condition": {"test": "datum.value % 50 === 0", "value": -10}, "value": -5}}},
     "y": {"datum": 1.15, "type": "quantitative", "axis": {"orient": "right", "values": [-1.5,-1,-0.5,0,0.5,1,1.5], "labels": false, "title": null, "tickSize": {"condition": {"test": "abs(datum.value - round(datum.value)) < 0.001", "value": -10}, "value": -5}}}
    }}
  ]
 }
],
"spacing": 0,
"bounds": "flush"
}
